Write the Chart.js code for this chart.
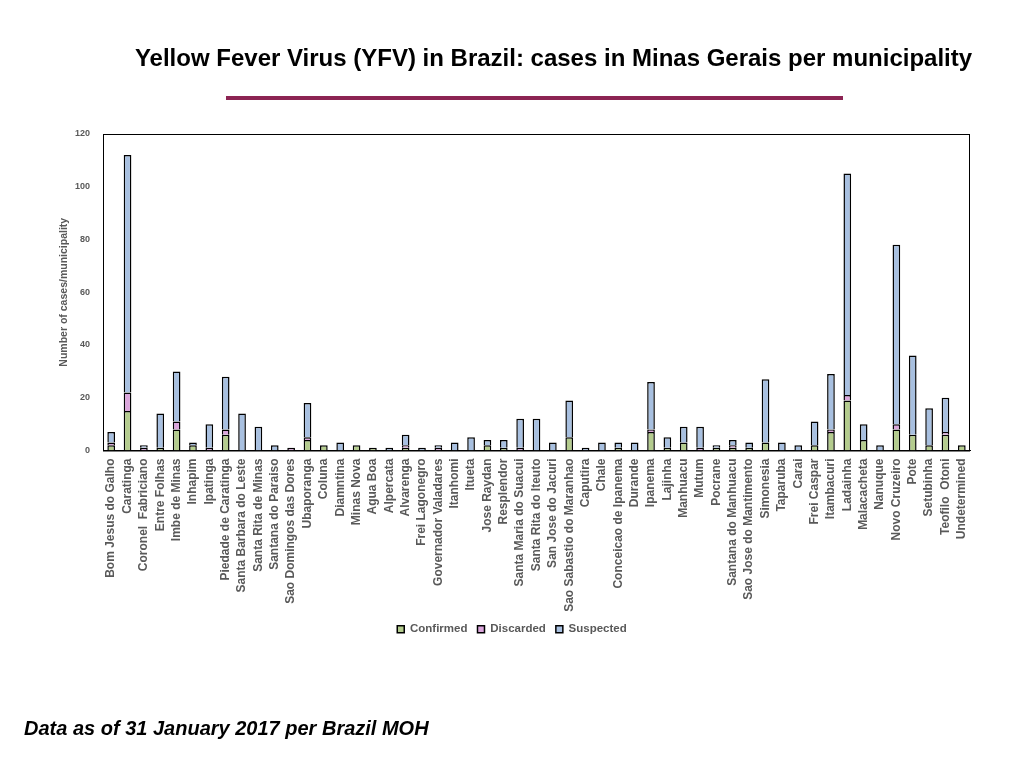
<!DOCTYPE html>
<html>
<head>
<meta charset="utf-8">
<script src="https://cdn.jsdelivr.net/npm/chart.js@4.4.0/dist/chart.umd.min.js"></script>
<style>
    body { margin: 0; background: #fff; font-family: "Liberation Sans", Arial, sans-serif; }
    #wrap { position: relative; width: 1024px; height: 768px; }
    #title { position: absolute; left: 0; width: 1107px; top: 44px; text-align: center; font-size: 24px; font-weight: bold; color: #000; white-space: nowrap; }
    #rule { position: absolute; left: 226px; top: 96px; width: 617px; height: 4px; background: #8c2453; }
    #footer { position: absolute; left: 24px; top: 717px; font-size: 20px; font-weight: bold; font-style: italic; color: #000; }
    canvas { position: absolute; left: 0; top: 0; }
</style>
</head>
<body>
<div id="wrap">
    <canvas id="myChart" width="1024" height="768"></canvas>
    <div id="title">Yellow Fever Virus (YFV) in Brazil: cases in Minas Gerais per municipality</div>
    <div id="rule"></div>
    <div id="footer">Data as of 31 January 2017 per Brazil MOH</div>
</div>
<script>
// Municipalities (x axis categories)
const municipalities = [
    'Bom Jesus do Galho', 'Caratinga', 'Coronel  Fabriciano', 'Entre Folhas', 'Imbe de Minas',
    'Inhapim', 'Ipatinga', 'Piedade de Caratinga', 'Santa Barbara do Leste', 'Santa Rita de Minas',
    'Santana do Paraiso', 'Sao Domingos das Dores', 'Ubaporanga', 'Coluna', 'Diamntina',
    'Minas Nova', 'Agua Boa', 'Alpercata', 'Alvarenga', 'Frei Lagonegro',
    'Governador Valadares', 'Itanhomi', 'Itueta', 'Jose Raydan', 'Resplendor',
    'Santa Maria do Suacui', 'Santa Rita do Iteuto', 'San Jose do Jacuri', 'Sao Sabastio do Maranhao', 'Caputira',
    'Chale', 'Conceicao de Ipanema', 'Durande', 'Ipanema', 'Lajinha',
    'Manhuacu', 'Mutum', 'Pocrane', 'Santana do Manhuacu', 'Sao Jose do Mantimento',
    'Simonesia', 'Taparuba', 'Carai', 'Frei Caspar', 'Itambacuri',
    'Ladainha', 'Malacacheta', 'Nanuque', 'Novo Cruzeiro', 'Pote',
    'Setubinha', 'Teofilo  Otoni', 'Undetermined'
];

// Case counts per municipality
const confirmed = [
    2, 15, 0, 1, 8, 2, 0, 6, 0, 0,
    0, 0, 4, 2, 0, 2, 1, 0, 1, 0,
    0, 0, 0, 2, 1, 0, 0, 0, 5, 0,
    0, 1, 0, 7, 1, 3, 0, 1, 1, 1,
    3, 0, 0, 2, 7, 19, 4, 0, 8, 6,
    2, 6, 2
];
const discarded = [
    1, 7, 1, 0, 3, 0, 1, 2, 0, 0,
    0, 1, 1, 0, 0, 0, 0, 0, 1, 0,
    1, 0, 0, 0, 0, 1, 0, 0, 0, 0,
    0, 0, 0, 1, 0, 0, 1, 0, 1, 0,
    0, 0, 0, 0, 1, 2, 0, 0, 2, 0,
    0, 1, 0
];
const suspected = [
    4, 90, 1, 13, 19, 1, 9, 20, 14, 9,
    2, 0, 13, 0, 3, 0, 0, 1, 4, 1,
    1, 3, 5, 2, 3, 11, 12, 3, 14, 1,
    3, 2, 3, 18, 4, 6, 8, 1, 2, 2,
    24, 3, 2, 9, 21, 84, 6, 2, 68, 30,
    14, 13, 0
];

// Y axis ticks
const yTicks = [0, 20, 40, 60, 80, 100, 120];

const textGray = '#595959';
const fontFamily = '"Liberation Sans", Arial, sans-serif';

// zero counts have no segment at all
const noZero = arr => arr.map(v => (v === 0 ? null : v));

// draws the black box round the plot area
const frameBox = {
    id: 'frameBox',
    afterDraw(chart) {
        const { ctx, chartArea } = chart;
        ctx.save();
        ctx.strokeStyle = '#000';
        ctx.lineWidth = 1;
        ctx.strokeRect(chartArea.left + 0.5, chartArea.top + 0.5,
            chartArea.right - chartArea.left - 1, chartArea.bottom - chartArea.top);
        ctx.restore();
    }
};

const ctx = document.getElementById('myChart').getContext('2d');
const myChart = new Chart(ctx, {
    type: 'bar',
    data: {
        labels: municipalities,
        datasets: [
            {
                label: 'Confirmed',
                data: noZero(confirmed),
                backgroundColor: '#b4cc8e',
                borderColor: '#000',
                borderWidth: 1.5
            },
            {
                label: 'Discarded',
                data: noZero(discarded),
                backgroundColor: '#dba6dc',
                borderColor: '#000',
                borderWidth: 1.5
            },
            {
                label: 'Suspected',
                data: noZero(suspected),
                backgroundColor: '#a8c0e0',
                borderColor: '#000',
                borderWidth: 1.5
            }
        ]
    },
    options: {
        responsive: false,
        animation: false,
        layout: {
            padding: { left: 54, right: 54, top: 134, bottom: 123 }
        },
        datasets: {
            bar: {
                categoryPercentage: 1,
                barPercentage: 0.47,
                borderSkipped: 'start'
            }
        },
        scales: {
            x: {
                stacked: true,
                grid: { display: false },
                border: { display: true, color: '#000' },
                ticks: {
                    autoSkip: false,
                    maxRotation: 90,
                    minRotation: 90,
                    padding: 0,
                    color: textGray,
                    font: { family: fontFamily, size: 12, weight: 'bold' }
                },
                afterFit(scale) {
                    scale.height = 163;
                }
            },
            y: {
                stacked: true,
                min: 0,
                max: 120,
                afterBuildTicks(scale) {
                    scale.ticks = yTicks.map(v => ({ value: v }));
                },
                grid: { display: false, drawTicks: false },
                border: { display: true, color: '#000' },
                ticks: {
                    padding: 13,
                    color: textGray,
                    font: { family: fontFamily, size: 9, weight: 'bold' }
                },
                title: {
                    display: true,
                    text: 'Number of cases/municipality',
                    color: textGray,
                    padding: 4,
                    font: { family: fontFamily, size: 10.5, weight: 'bold' }
                },
                afterFit(scale) {
                    scale.width = 49;
                }
            }
        },
        plugins: {
            legend: {
                position: 'bottom',
                labels: {
                    boxWidth: 7,
                    boxHeight: 7,
                    padding: 10,
                    color: textGray,
                    font: { family: fontFamily, size: 11.5, weight: 'bold' }
                }
            },
            tooltip: { enabled: false }
        }
    },
    plugins: [frameBox]
});
</script>
</body>
</html>
